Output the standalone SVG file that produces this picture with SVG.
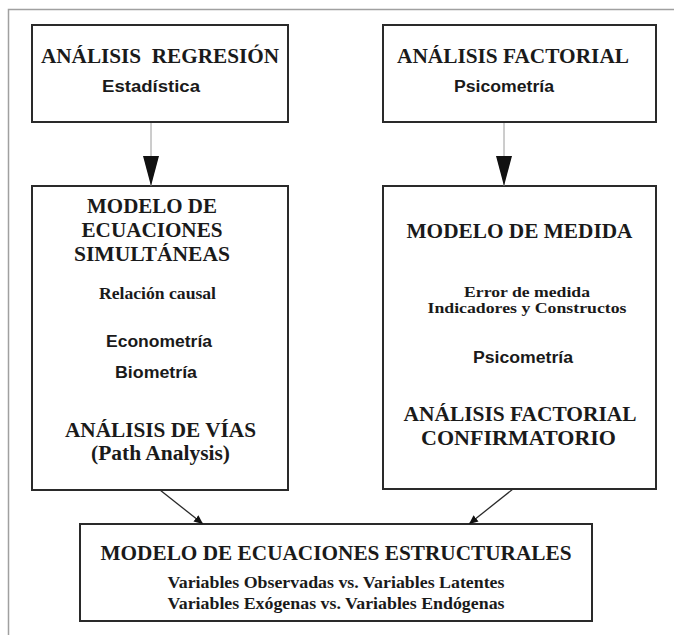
<svg xmlns="http://www.w3.org/2000/svg" width="674" height="635" viewBox="0 0 674 635">
  <style>
    .box { fill: #ffffff; stroke: #2a2a2a; stroke-width: 2; }
    .frame { fill: none; stroke: #a0a0a0; stroke-width: 1.5; }
    .ttl { font-family: "Liberation Serif", "Times New Roman", serif; font-weight: bold; font-size: 20px; fill: #1a1a1a; text-anchor: middle; }
    .sub { font-family: "Liberation Serif", "Times New Roman", serif; font-weight: bold; font-size: 16px; fill: #1a1a1a; text-anchor: middle; }
    .sub-tight { font-family: "Liberation Serif", "Times New Roman", serif; font-weight: bold; font-size: 15px; fill: #1a1a1a; text-anchor: middle; }
    .sans { font-family: "Liberation Sans", Arial, sans-serif; font-weight: bold; font-size: 16px; fill: #1a1a1a; text-anchor: middle; }
    .vline { stroke: #9a9a9a; stroke-width: 1; fill: none; }
    .dline { stroke: #2a2a2a; stroke-width: 1.3; fill: none; }
  </style>
  <defs>
    <marker id="headBig" viewBox="0 0 30 16" refX="30" refY="8" markerWidth="30" markerHeight="16" markerUnits="userSpaceOnUse" orient="auto">
      <path d="M0,0 L30,8 L0,16 Z" fill="#111"/>
    </marker>
    <marker id="headSmall" viewBox="0 0 9 8" refX="9" refY="4" markerWidth="9" markerHeight="8" markerUnits="userSpaceOnUse" orient="auto">
      <path d="M0,0 L9,4 L0,8 Z" fill="#111"/>
    </marker>
  </defs>

  <!-- page frame -->
  <path class="frame" d="M8.5,635 V9.5 H674"/>

  <g id="regresion">
    <rect class="box" x="32" y="25" width="256" height="97"/>
    <text class="ttl" x="160" y="63" textLength="238" lengthAdjust="spacingAndGlyphs" xml:space="preserve">ANÁLISIS  REGRESIÓN</text>
    <text class="sans" x="151" y="92" textLength="98" lengthAdjust="spacingAndGlyphs">Estadística</text>
  </g>

  <g id="factorial">
    <rect class="box" x="383" y="25" width="273" height="97"/>
    <text class="ttl" x="513" y="63" textLength="232" lengthAdjust="spacingAndGlyphs">ANÁLISIS FACTORIAL</text>
    <text class="sans" x="504" y="92" textLength="100" lengthAdjust="spacingAndGlyphs">Psicometría</text>
  </g>

  <g id="ecuaciones-simultaneas">
    <rect class="box" x="32" y="186" width="256" height="304"/>
    <text class="ttl" x="152" y="213" textLength="130" lengthAdjust="spacingAndGlyphs">MODELO DE</text>
    <text class="ttl" x="152" y="237" textLength="141" lengthAdjust="spacingAndGlyphs">ECUACIONES</text>
    <text class="ttl" x="152" y="261" textLength="156" lengthAdjust="spacingAndGlyphs">SIMULTÁNEAS</text>
    <text class="sub" x="157.5" y="299" textLength="117" lengthAdjust="spacingAndGlyphs">Relación causal</text>
    <text class="sans" x="159" y="347" textLength="106" lengthAdjust="spacingAndGlyphs">Econometría</text>
    <text class="sans" x="156" y="378" textLength="82" lengthAdjust="spacingAndGlyphs">Biometría</text>
    <text class="ttl" x="160.5" y="437" textLength="191" lengthAdjust="spacingAndGlyphs">ANÁLISIS DE VÍAS</text>
    <text class="ttl" x="160.5" y="460" textLength="139" lengthAdjust="spacingAndGlyphs">(Path Analysis)</text>
  </g>

  <g id="medida">
    <rect class="box" x="383" y="186" width="273" height="303"/>
    <text class="ttl" x="519.5" y="238" textLength="226" lengthAdjust="spacingAndGlyphs">MODELO DE MEDIDA</text>
    <text class="sub-tight" x="527" y="297" textLength="126" lengthAdjust="spacingAndGlyphs">Error de medida</text>
    <text class="sub-tight" x="527" y="313" textLength="199" lengthAdjust="spacingAndGlyphs">Indicadores y Constructos</text>
    <text class="sans" x="523" y="363" textLength="100" lengthAdjust="spacingAndGlyphs">Psicometría</text>
    <text class="ttl" x="520" y="421" textLength="233" lengthAdjust="spacingAndGlyphs">ANÁLISIS FACTORIAL</text>
    <text class="ttl" x="518.5" y="445" textLength="195" lengthAdjust="spacingAndGlyphs">CONFIRMATORIO</text>
  </g>

  <g id="estructurales">
    <rect class="box" x="80" y="524" width="512" height="97"/>
    <text class="ttl" x="336" y="560" textLength="471" lengthAdjust="spacingAndGlyphs">MODELO DE ECUACIONES ESTRUCTURALES</text>
    <text class="sub" x="336" y="588" textLength="337" lengthAdjust="spacingAndGlyphs">Variables Observadas vs. Variables Latentes</text>
    <text class="sub" x="336" y="609" textLength="337" lengthAdjust="spacingAndGlyphs">Variables Exógenas vs. Variables Endógenas</text>
  </g>

  <g id="connectors">
    <line class="vline" x1="151" y1="123" x2="151" y2="186" marker-end="url(#headBig)"/>
    <line class="vline" x1="504" y1="123" x2="504" y2="186" marker-end="url(#headBig)"/>
    <line class="dline" x1="160" y1="490" x2="203" y2="524" marker-end="url(#headSmall)"/>
    <line class="dline" x1="513" y1="489" x2="469" y2="524" marker-end="url(#headSmall)"/>
  </g>
</svg>
